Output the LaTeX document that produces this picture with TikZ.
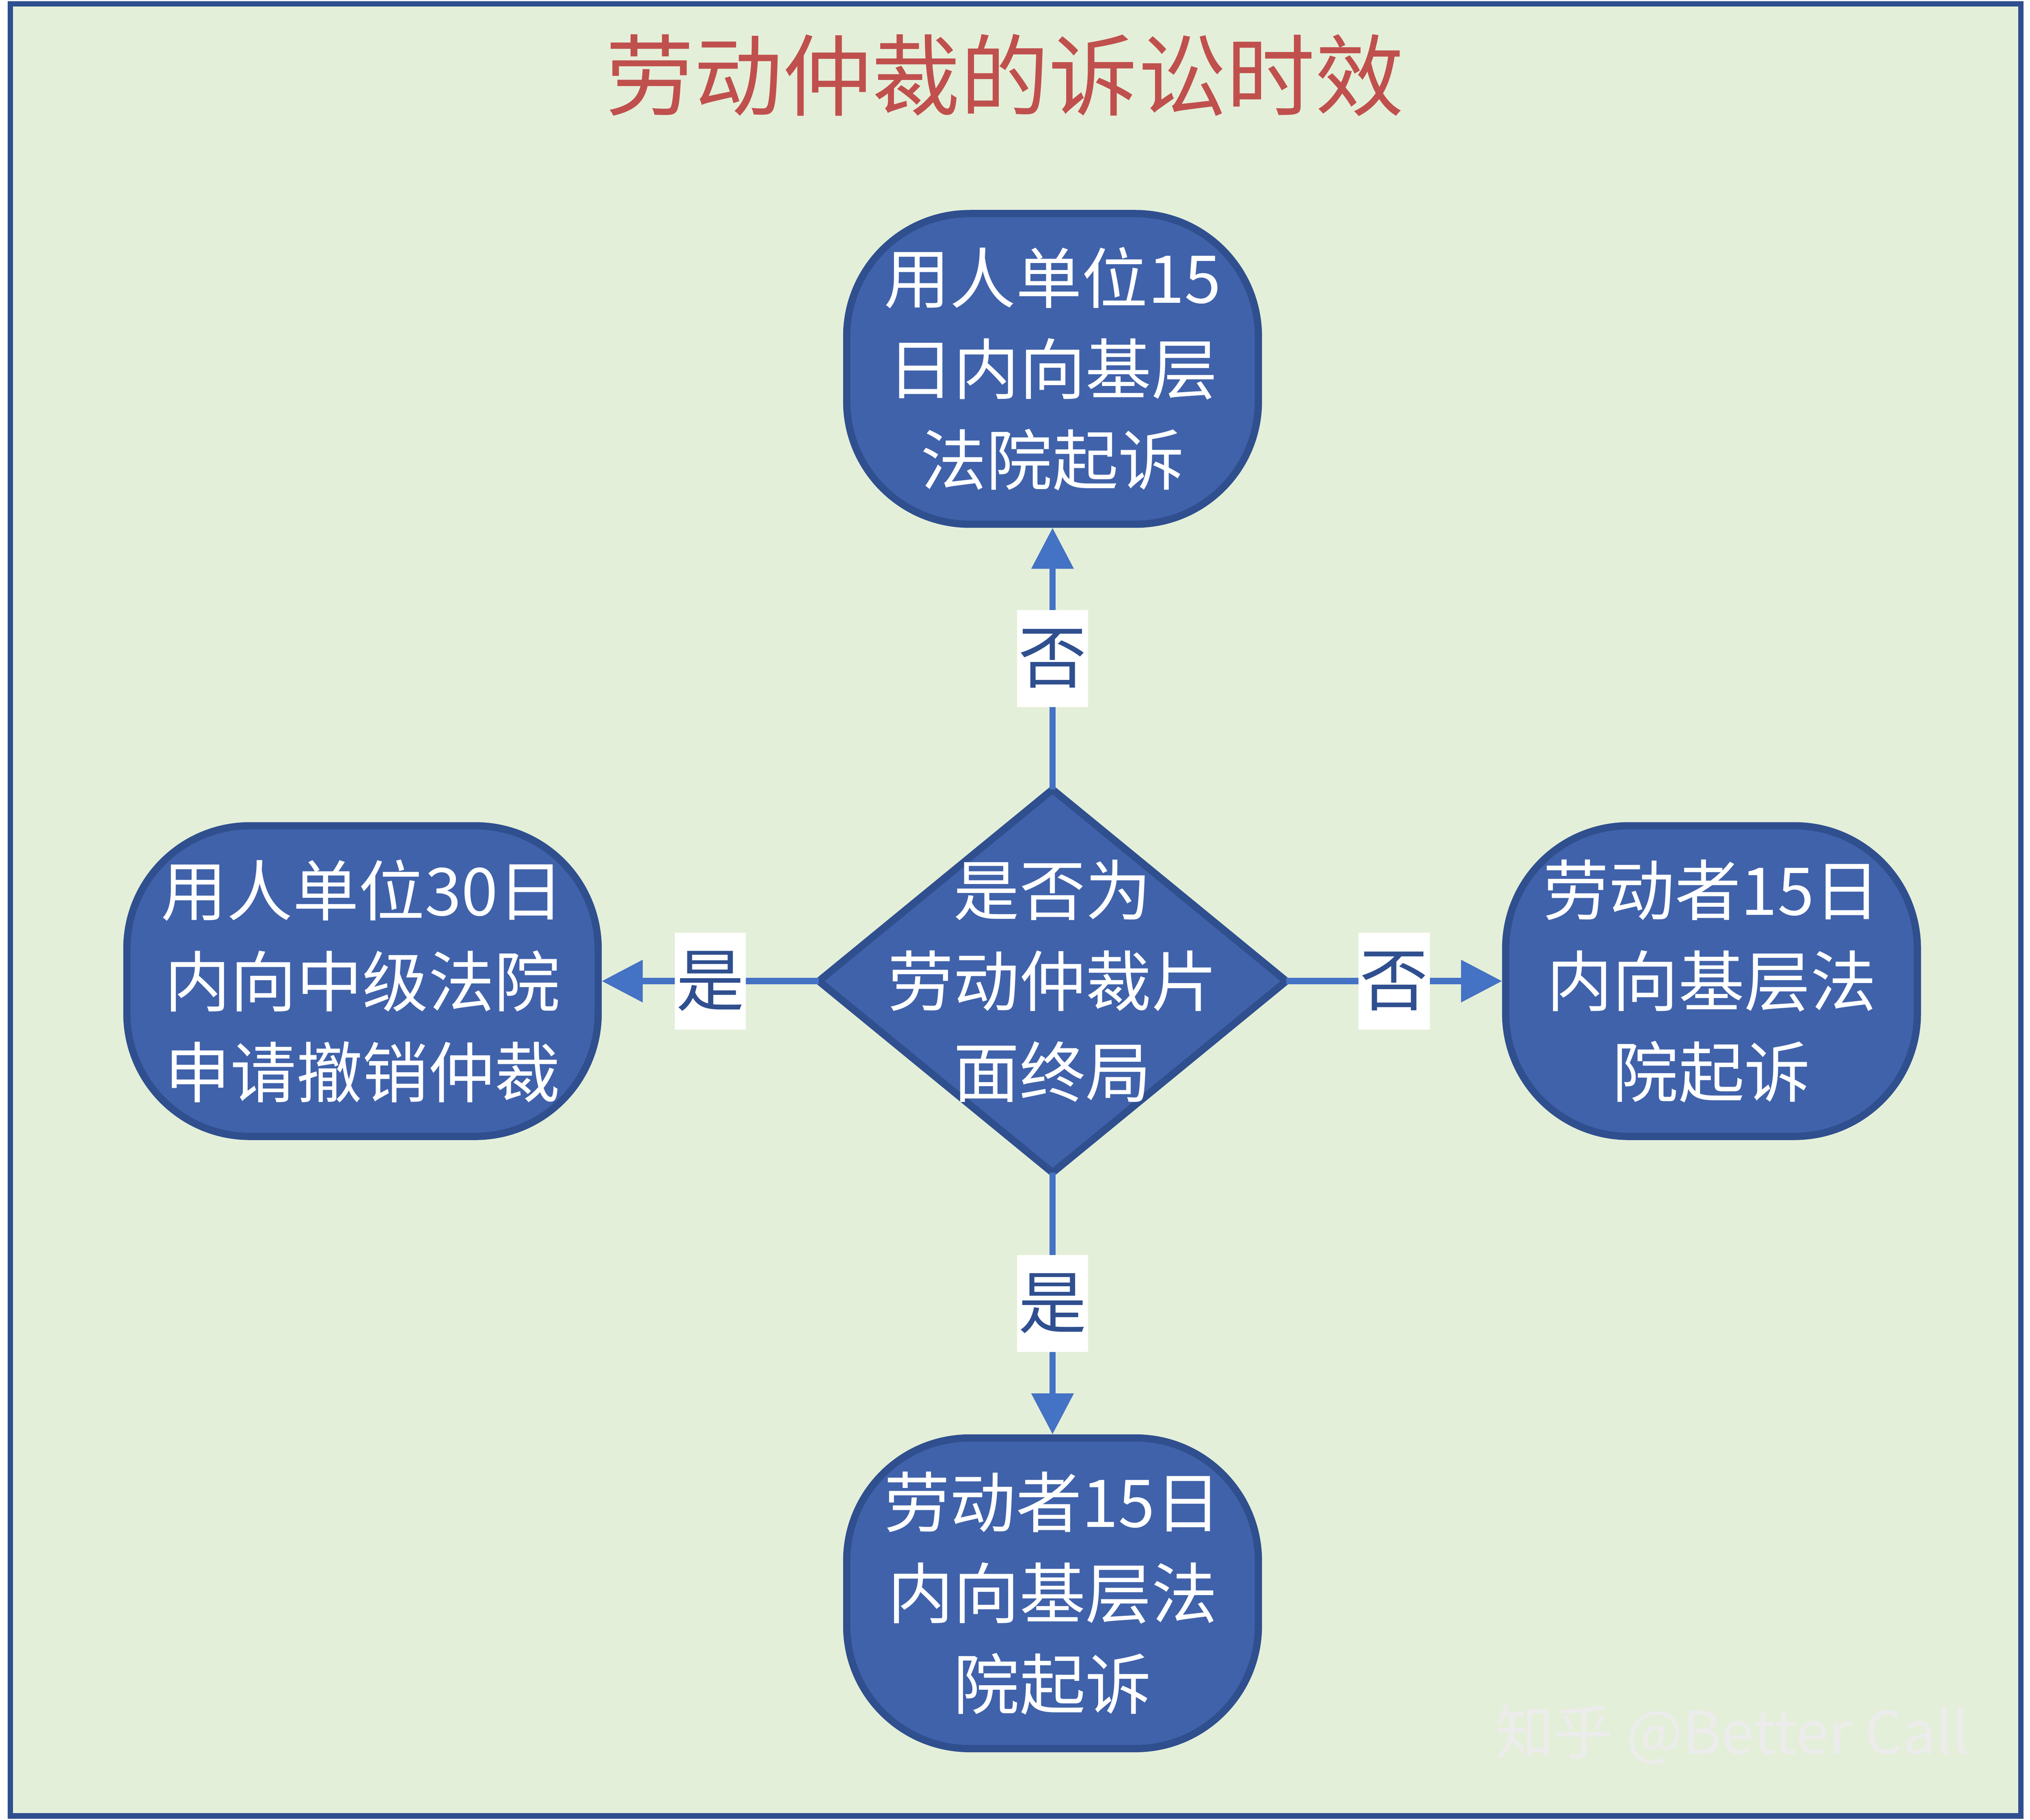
\documentclass[tikz,border=0pt]{standalone}
\usepackage{fontspec}
\setmainfont{Noto Sans CJK SC}
\newfontfamily\titlefont{Noto Sans CJK SC}
\usetikzlibrary{shapes.geometric,arrows.meta}
\definecolor{bgreen}{HTML}{E4EFD9}
\definecolor{frameblue}{HTML}{2F4F8F}
\definecolor{boxblue}{HTML}{4062AA}
\definecolor{lineblue}{HTML}{4472C4}
\definecolor{titlered}{HTML}{C0504D}
\tikzset{
  roundbox/.style={draw=frameblue,line width=1.6pt,fill=boxblue,rounded corners=0.95cm,
    minimum width=3.18cm,minimum height=2.4cm,text=white,align=center,
    font=\fontsize{14.5pt}{20pt}\selectfont,inner sep=0pt},
  decision/.style={diamond,draw=frameblue,line width=1.6pt,fill=boxblue,
    minimum width=3.61cm,minimum height=2.96cm,inner sep=0pt,outer sep=0pt},
  inner/.style={text=white,align=center,font=\fontsize{14.5pt}{20pt}\selectfont},
  flow/.style={draw=lineblue,line width=1.4pt,-{Triangle[length=9pt,width=9pt]}},
  answer/.style={fill=white,text=frameblue,font=\fontsize{15pt}{15pt}\selectfont,
    minimum width=0.55cm,minimum height=0.75cm,inner sep=0pt}
}
\begin{document}
\begin{tikzpicture}[x=0.1mm,y=-0.1mm]
  \useasboundingbox (0,0) rectangle (1568,1406);
  \filldraw [draw=frameblue,line width=1.2pt,fill=bgreen] (8,3) rectangle (1561,1403);
  \node (title) [text=titlered,font=\titlefont\fontsize{19.5pt}{20pt}\selectfont] at (776,58) {劳动仲裁的诉讼时效};
  % nodes
  \node (center) [decision] at (813,758) {};
  \node (centertext) [inner] at (813,758) {是否为\\劳动仲裁片\\面终局};
  \node (top) [roundbox] at (813,285) {用人单位15\\日内向基层\\法院起诉};
  \node (left) [roundbox,minimum width=3.64cm] at (280,758) {用人单位30日\\内向中级法院\\申请撤销仲裁};
  \node (right) [roundbox] at (1322,758) {劳动者15日\\内向基层法\\院起诉};
  \node (bottom) [roundbox] at (813,1231) {劳动者15日\\内向基层法\\院起诉};
  % connectors
  \draw [flow] (center) -- node[answer] {否} (top);
  \draw [flow] (center) -- node[answer] {是} (bottom);
  \draw [flow] (center) -- node[answer] {是} (left);
  \draw [flow] (center) -- node[answer] {否} (right);
  \node (mark) [text=white!85!gray,font=\fontsize{13pt}{13pt}\selectfont] at (1338,1340) {知乎 @Better Call};
\end{tikzpicture}
\end{document}
